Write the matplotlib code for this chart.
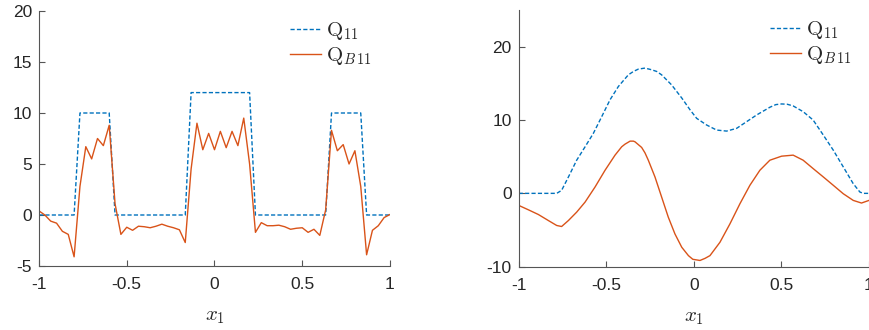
import matplotlib
matplotlib.use("Agg")
import matplotlib.pyplot as plt
import numpy as np

plt.rcParams['font.family'] = ['Liberation Sans', 'DejaVu Sans']
plt.rcParams['mathtext.fontset'] = 'cm'

# ---------------- Left panel data (grid of 61 points on [-1, 1]) ----------------
left_n = 61
left_q11 = [0, 0, 0, 0, 0, 0, 0,
            10, 10, 10, 10, 10, 10,
            0, 0, 0, 0, 0, 0, 0, 0, 0, 0, 0, 0, 0,
            12, 12, 12, 12, 12, 12, 12, 12, 12, 12, 12,
            0, 0, 0, 0, 0, 0, 0, 0, 0, 0, 0, 0, 0,
            10, 10, 10, 10, 10, 10,
            0, 0, 0, 0, 0]
left_qb11 = [0.4, 0.0, -0.6, -0.8, -1.6, -1.9, -4.1,
             2.8, 6.7, 5.5, 7.5, 6.8, 8.8,
             1.1, -1.9, -1.2, -1.5, -1.1, -1.15, -1.25, -1.1, -0.9, -1.1, -1.25, -1.45, -2.7,
             4.5, 9.0, 6.4, 8.0, 6.4, 8.2, 6.6, 8.2, 6.8, 9.5, 5.0,
             -1.7, -0.75, -1.05, -1.05, -1.0, -1.15, -1.4, -1.3, -1.25, -1.7, -1.4, -2.0, 0.5,
             8.3, 6.3, 6.9, 5.0, 6.3, 2.8,
             -3.9, -1.5, -1.05, -0.25, 0.05]

# ---------------- Right panel data ----------------
right_q11_x = [-1.0, -0.783, -0.755, -0.716, -0.669, -0.621, -0.574, -0.526, -0.479, -0.431,
               -0.374, -0.345, -0.317, -0.279, -0.241, -0.212, -0.184, -0.127, -0.069, -0.022,
               0.016, 0.073, 0.130, 0.187, 0.244, 0.301, 0.358, 0.434, 0.468, 0.501,
               0.533, 0.567, 0.624, 0.681, 0.739, 0.796, 0.853, 0.910, 0.948, 0.967, 1.0]
right_q11_y = [0, 0, 0.41, 2.24, 4.52, 6.35, 8.17, 10.46, 12.74, 14.57,
               16.16, 16.62, 16.94, 17.08, 16.85, 16.62, 16.16, 14.79, 13.0, 11.4,
               10.23, 9.32, 8.63, 8.49, 8.86, 9.77, 10.68, 11.74, 12.10, 12.19,
               12.15, 11.92, 11.14, 10.0, 7.95, 5.89, 3.61, 1.32, 0.18, 0, 0]
right_qb11_x = [-1.0, -0.945, -0.888, -0.831, -0.783, -0.755, -0.716, -0.669, -0.621, -0.564,
                -0.507, -0.450, -0.412, -0.393, -0.364, -0.345, -0.336, -0.298, -0.279, -0.260,
                -0.222, -0.184, -0.146, -0.108, -0.069, -0.031, -0.006, 0.035, 0.064, 0.092,
                0.149, 0.206, 0.263, 0.320, 0.377, 0.434, 0.501, 0.567, 0.624, 0.681,
                0.739, 0.796, 0.853, 0.910, 0.957, 1.0]
right_qb11_y = [-1.64, -2.24, -2.88, -3.70, -4.38, -4.52, -3.70, -2.56, -1.19, 0.87,
                3.15, 5.21, 6.35, 6.71, 7.12, 7.12, 7.03, 6.26, 5.52, 4.52,
                2.24, -0.5, -3.24, -5.53, -7.35, -8.49, -8.99, -9.15, -8.86, -8.49,
                -6.67, -4.16, -1.42, 1.10, 3.15, 4.52, 5.07, 5.21, 4.52, 3.38,
                2.24, 1.10, -0.05, -0.96, -1.32, -0.96]

x_ticks = [-1, -0.5, 0, 0.5, 1]
x_tick_labels = ['-1', '-0.5', '0', '0.5', '1']
left_yticks = [-5, 0, 5, 10, 15, 20]
right_yticks = [-10, 0, 10, 20]

blue = '#0072BD'
orange = '#D95319'
axcol = '#262626'

fig = plt.figure(figsize=(8.7, 3.3), dpi=100)
ax1 = fig.add_axes([39/870, (330-266)/330, 351/870, 255/330])
ax2 = fig.add_axes([518.7/870, (330-266.7)/330, 350.3/870, 256.7/330])

left_x = np.linspace(-1, 1, left_n)

def style(ax, yticks, ylim):
    for s in ['top', 'right']:
        ax.spines[s].set_visible(False)
    for s in ['left', 'bottom']:
        ax.spines[s].set_color('#555555')
        ax.spines[s].set_linewidth(0.8)
    ax.set_xlim(-1, 1)
    ax.set_ylim(*ylim)
    ax.set_xticks(x_ticks)
    ax.set_xticklabels(x_tick_labels)
    ax.set_yticks(yticks)
    ax.set_yticklabels([str(t) for t in yticks])
    ax.tick_params(direction='in', length=4, width=0.8, color='#555555',
                   labelsize=12.5, labelcolor=axcol)
    ax.tick_params(axis='x', pad=8)
    ax.tick_params(axis='y', pad=5)
    ax.set_xlabel(r'$x_1$', fontsize=15, color=axcol, labelpad=11)

ax1.plot(left_x, left_q11, '--', color=blue, lw=1.0, dashes=(3, 1.6), label=r'$\mathrm{Q}_{11}$')
ax1.plot(left_x, left_qb11, '-', color=orange, lw=1.0, label=r'$\mathrm{Q}_{B\,11}$')
style(ax1, left_yticks, (-5, 20))

ax2.plot(right_q11_x, right_q11_y, '--', color=blue, lw=1.0, dashes=(3, 1.6), label=r'$\mathrm{Q}_{11}$')
ax2.plot(right_qb11_x, right_qb11_y, '-', color=orange, lw=1.0, label=r'$\mathrm{Q}_{B\,11}$')
style(ax2, right_yticks, (-10, 25))

for ax, xa in [(ax1, (290-39)/351), (ax2, (770-518.7)/350.3)]:
    ax.legend(loc='upper left', bbox_to_anchor=(xa, 0.965), frameon=False,
              fontsize=15, handlelength=1.5, handletextpad=0.25, borderpad=0,
              borderaxespad=0, labelspacing=0.15, labelcolor=axcol)

fig.savefig('out.png', dpi=100)
